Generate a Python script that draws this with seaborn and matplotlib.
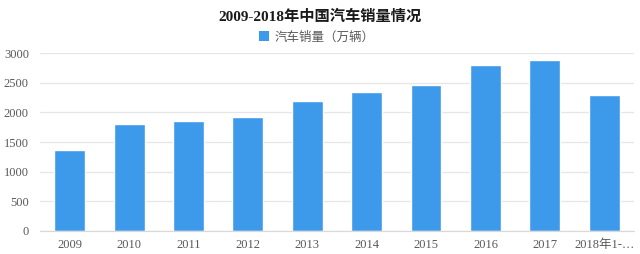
import matplotlib
matplotlib.use("Agg")
import matplotlib.pyplot as plt
import seaborn as sns
import pandas as pd
from matplotlib.patches import Patch

years = ["2009", "2010", "2011", "2012", "2013", "2014", "2015", "2016", "2017", "2018年1-…"]
sales = [1364, 1806, 1851, 1931, 2198, 2349, 2460, 2803, 2888, 2290]
yticks = [0, 500, 1000, 1500, 2000, 2500, 3000]

sns.set_theme(style="white")
plt.rcParams['font.family'] = ['Liberation Serif', 'Noto Sans CJK SC', 'DejaVu Sans']

df = pd.DataFrame({"year": years, "sales": sales})
color = "#3d9aea"
txt = "#595959"

fig = plt.figure(figsize=(6.4, 2.54), dpi=100)
ax = fig.add_axes([0.0625, 0.0906, 0.928, 0.7])
sns.barplot(data=df, x="year", y="sales", color=color, width=0.52, saturation=1, ax=ax)
ax.set_xlim(-0.5, 9.5)
ax.set_ylim(0, 3000)
ax.set_yticks(yticks)
ax.set_yticklabels([str(v) for v in yticks])
ax.yaxis.grid(True, color="#e6e6e6", linewidth=0.9)
ax.set_axisbelow(True)
for s in ["top", "right", "left"]:
    ax.spines[s].set_visible(False)
ax.spines["bottom"].set_color("#d9d9d9")
ax.spines["bottom"].set_linewidth(0.9)
ax.set_xlabel("")
ax.set_ylabel("")
ax.tick_params(axis="both", length=0, labelsize=9, colors=txt, pad=6)
ax.tick_params(axis="y", pad=8)

fig.text(0.5, 0.935, "2009-2018年中国汽车销量情况", ha="center", va="center",
         fontsize=11, fontweight="bold", color="#1a1a1a",
         family=['Liberation Serif', 'Noto Sans CJK SC'])
handles = [Patch(facecolor=color, edgecolor="none", label="汽车销量（万辆）")]
fig.legend(handles=handles, loc="center", bbox_to_anchor=(0.495, 0.855), frameon=False,
           fontsize=9, handlelength=0.8, handleheight=0.8, handletextpad=0.4,
           labelcolor=txt, prop={'family': ['Noto Sans CJK SC'], 'size': 9})

fig.savefig("out.png", dpi=100, facecolor="white")
